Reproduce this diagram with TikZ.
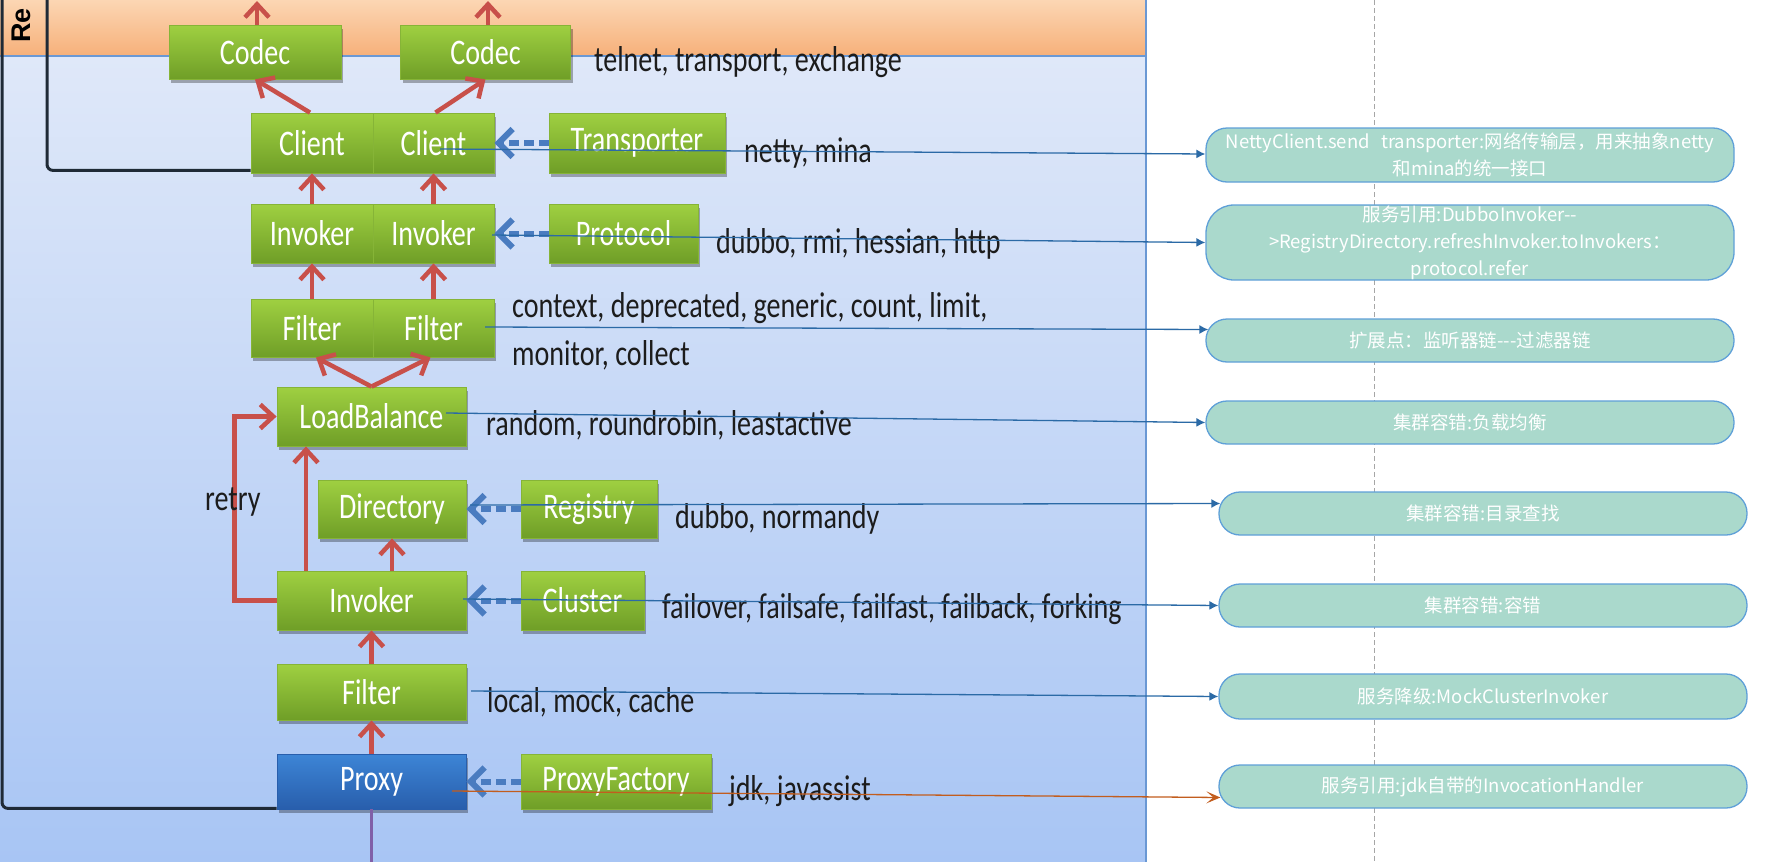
\documentclass[tikz,border=0pt]{standalone}
\usepackage{fontspec}
\setmainfont{Carlito}
\newfontfamily\lblfont[FakeStretch=0.78]{Carlito}
\newfontfamily\cjkfont{Noto Sans CJK SC}
\newfontfamily\boldsans{Liberation Sans}
\usetikzlibrary{arrows.meta,shadows,calc}
\definecolor{gTop}{HTML}{9FD041}
\definecolor{gBot}{HTML}{6F9E27}
\definecolor{gBorder}{HTML}{86B437}
\definecolor{pTop}{HTML}{3D85D6}
\definecolor{pBot}{HTML}{285EAC}
\definecolor{redc}{HTML}{C8504A}
\definecolor{blueA}{HTML}{4A7CC0}
\definecolor{annLine}{HTML}{2B6AA6}
\definecolor{orLine}{HTML}{C25D1E}
\definecolor{annFill}{HTML}{AAD9CC}
\definecolor{annBorder}{HTML}{5FA0D8}
\definecolor{panelTop}{HTML}{DFE8F9}
\definecolor{panelBot}{HTML}{A8C5F4}
\definecolor{orTop}{HTML}{FCD6B3}
\definecolor{orBot}{HTML}{F6B07A}
\definecolor{panelEdge}{HTML}{6A98D4}
\definecolor{darkLine}{HTML}{1F2A36}
\definecolor{txt}{HTML}{1C1C1C}
\definecolor{purpleLine}{HTML}{8060A8}
\begin{document}
\begin{tikzpicture}[x=1pt,y=-1pt,
  greenbox/.style={draw=gBorder, line width=0.8pt, top color=gTop, bottom color=gBot,
    text=white, font=\lblfont\fontsize{36}{36}\selectfont, inner sep=0pt,
    drop shadow={shadow xshift=2pt, shadow yshift=-4pt, opacity=0.3, fill=black}},
  bluebox/.style={greenbox, draw=pBot, top color=pTop, bottom color=pBot},
  redarr/.style={draw=redc, line width=4.5pt, -{Straight Barb[length=13pt,width=24pt]}},
  bluearr/.style={draw=blueA, line width=6pt, dash pattern=on 10pt off 5pt, -{Straight Barb[length=14pt,width=28pt]}},
  lbl/.style={anchor=base west, text=txt, font=\lblfont\fontsize{36}{36}\selectfont, inner sep=0pt},
  annbox/.style={draw=annBorder, line width=1.3pt, fill=annFill, rounded corners=21pt,
    text=white, font=\cjkfont\fontsize{18.5}{27}\selectfont, align=center,
    minimum width=528pt, inner sep=0pt},
  annarr/.style={draw=annLine, line width=1.3pt, -{Latex[length=9pt,width=9pt]}},
  orarr/.style={draw=orLine, line width=1.3pt, -{Stealth[length=14pt,width=12pt,inset=7pt]}},
  darkline/.style={draw=darkLine, line width=3pt, rounded corners=6pt}
]
\useasboundingbox (0,0) rectangle (1770,862);
\fill[white] (0,0) rectangle (1770,862);
% panels
\shade[top color=panelTop, bottom color=panelBot] (0,56) rectangle (1146,862);
\shade[top color=orTop, bottom color=orBot] (0,0) rectangle (1146,56);
\draw[panelEdge, line width=2pt] (0,56) -- (1146,56);
\draw[panelEdge, line width=2pt] (1146,0) -- (1146,862);
\draw[gray!70, line width=0.8pt, dash pattern=on 5pt off 3pt] (1374,0) -- (1374,862);

% left label
\node[rotate=90, anchor=west, inner sep=0pt, font=\boldsans\bfseries\fontsize{27}{27}\selectfont] (re) at (21,43) {Re};

% green boxes
\node[greenbox, minimum width=172pt, minimum height=54pt] (codec1) at (255,52) {Codec};
\node[greenbox, minimum width=170pt, minimum height=54pt] (codec2) at (485.5,52) {Codec};
\node[greenbox, minimum width=122pt, minimum height=60pt] (client1) at (312,143) {Client};
\node[greenbox, minimum width=121pt, minimum height=60pt] (client2) at (433.5,143) {Client};
\node[greenbox, minimum width=176pt, minimum height=60pt] (transporter) at (637,143) {Transporter};
\node[greenbox, minimum width=122pt, minimum height=59pt] (invoker1) at (312,233.5) {Invoker};
\node[greenbox, minimum width=121pt, minimum height=59pt] (invoker2) at (433.5,233.5) {Invoker};
\node[greenbox, minimum width=149pt, minimum height=59pt] (protocol) at (623.5,233.5) {Protocol};
\node[greenbox, minimum width=122pt, minimum height=58pt] (filter1) at (312,328) {Filter};
\node[greenbox, minimum width=121pt, minimum height=58pt] (filter2) at (433.5,328) {Filter};
\node[greenbox, minimum width=189pt, minimum height=59pt] (lb) at (371.5,416.5) {LoadBalance};
\node[greenbox, minimum width=148pt, minimum height=58pt] (directory) at (392,509) {Directory};
\node[greenbox, minimum width=136pt, minimum height=58pt] (registry) at (589,509) {Registry};
\node[greenbox, minimum width=189pt, minimum height=59pt] (invokerc) at (371.5,600.5) {Invoker};
\node[greenbox, minimum width=123pt, minimum height=59pt] (cluster) at (582.5,600.5) {Cluster};
\node[greenbox, minimum width=189pt, minimum height=56pt] (filter3) at (371.5,692) {Filter};
\node[bluebox, minimum width=189pt, minimum height=55pt] (proxy) at (371.5,781.5) {Proxy};
\node[greenbox, minimum width=190pt, minimum height=55pt] (proxyfactory) at (616,781.5) {ProxyFactory};

% dark outline lines
\coordinate (topA) at (47,-5);
\coordinate (topB) at (2,-5);
\draw[darkline] (topA) |- ([yshift=3pt]client1.south west);
\draw[darkline] (topB) |- ([yshift=1pt]proxy.south west);

% red arrows
\coordinate (up1) at (257,1);
\coordinate (up2) at (488,1);
\coordinate (xL) at (306,0);
\coordinate (pbot) at (371.5,866);
\draw[redarr] (codec1.north -| up1) -- (up1);
\draw[redarr] (codec2.north -| up2) -- (up2);
\draw[redarr] ([xshift=-2pt]client1.north) -- (codec1.south);
\draw[redarr] ([xshift=2pt]client2.north) -- (codec2.south);
\draw[redarr] (invoker1.north) -- (client1.south);
\draw[redarr] (invoker2.north) -- (client2.south);
\draw[redarr] (filter1.north) -- (invoker1.south);
\draw[redarr] (filter2.north) -- (invoker2.south);
\draw[redarr] (lb.north) -- ([xshift=4pt]filter1.south);
\draw[redarr] (lb.north) -- ([xshift=-3pt]filter2.south);
\draw[redarr] (invokerc.north -| xL) -- (lb.south -| xL);
\draw[redarr] (invokerc.north -| directory.south) -- (directory.south);
\draw[redarr] (filter3.north) -- (invokerc.south);
\draw[redarr] (proxy.north) -- (filter3.south);
\draw[redarr] (invokerc.west) -- ++(-42,0) |- (lb.west);
\draw[draw=purpleLine, line width=3pt] (proxy.south) -- (pbot);

% blue dashed arrows
\draw[bluearr] (transporter.west) -- (client2.east);
\draw[bluearr] (protocol.west) -- (invoker2.east);
\draw[bluearr] (registry.west) -- (directory.east);
\draw[bluearr] (cluster.west) -- (invokerc.east);
\draw[bluearr] (proxyfactory.west) -- (proxy.east);

% texts
\node[lbl] (t1) at (594,71) {telnet, transport, exchange};
\node[lbl] (t2) at (744,162) {netty, mina};
\node[lbl] (t3) at (716,253) {dubbo, rmi, hessian, http};
\node[lbl] (t4) at (512,317) {context, deprecated, generic, count, limit,};
\node[lbl] (t5) at (512,365) {monitor, collect};
\node[lbl] (t6) at (486,435) {random, roundrobin, leastactive};
\node[lbl] (t7) at (675,528) {dubbo, normandy};
\node[lbl] (t8) at (662,618) {failover, failsafe, failfast, failback, forking};
\node[lbl] (t9) at (487,712) {local, mock, cache};
\node[lbl] (t10) at (729,800) {jdk, javassist};
\node[lbl] (retry) at (205,510) {retry};

% annotation boxes
\node[annbox, minimum height=54pt] (b1) at (1470,155) {NettyClient.send\hspace{0.6em}transporter:网络传输层，用来抽象netty\\和mina的统一接口};
\node[annbox, minimum height=75pt, rounded corners=28pt] (b2) at (1470,242.5) {服务引用:DubboInvoker--\\>RegistryDirectory.refreshInvoker.toInvokers：\\protocol.refer};
\node[annbox, minimum height=43pt] (b3) at (1470,340.5) {扩展点：监听器链---过滤器链};
\node[annbox, minimum height=43pt] (b4) at (1470,422.5) {集群容错:负载均衡};
\node[annbox, minimum height=43pt] (b5) at (1483,513.5) {集群容错:目录查找};
\node[annbox, minimum height=43pt] (b6) at (1483,605.5) {集群容错:容错};
\node[annbox, minimum height=45pt] (b7) at (1483,696.5) {服务降级:MockClusterInvoker};
\node[annbox, minimum height=43pt] (b8) at (1483,786.5) {服务引用:jdk自带的InvocationHandler};

% annotation connectors
\coordinate (s1) at (440,149);
\coordinate (s2) at (492,235);
\coordinate (s3) at (485,327);
\coordinate (s4) at (446,413);
\coordinate (s5) at (470,505);
\coordinate (s6) at (463,599);
\coordinate (s7) at (471,691);
\coordinate (s8) at (452,791);
\draw[annarr] (s1) -- ([yshift=1pt]b1.west);
\draw[annarr] (s2) -- (b2.west);
\draw[annarr] (s3) -- ([xshift=3pt,yshift=11pt]b3.west);
\draw[annarr] (s4) -- (b4.west);
\draw[annarr] (s5) -- ([xshift=2pt,yshift=10pt]b5.west);
\draw[annarr] (s6) -- (b6.west);
\draw[annarr] (s7) -- (b7.west);
\draw[orarr] (s8) -- ([xshift=2pt,yshift=-11pt]b8.west);
\end{tikzpicture}
\end{document}
